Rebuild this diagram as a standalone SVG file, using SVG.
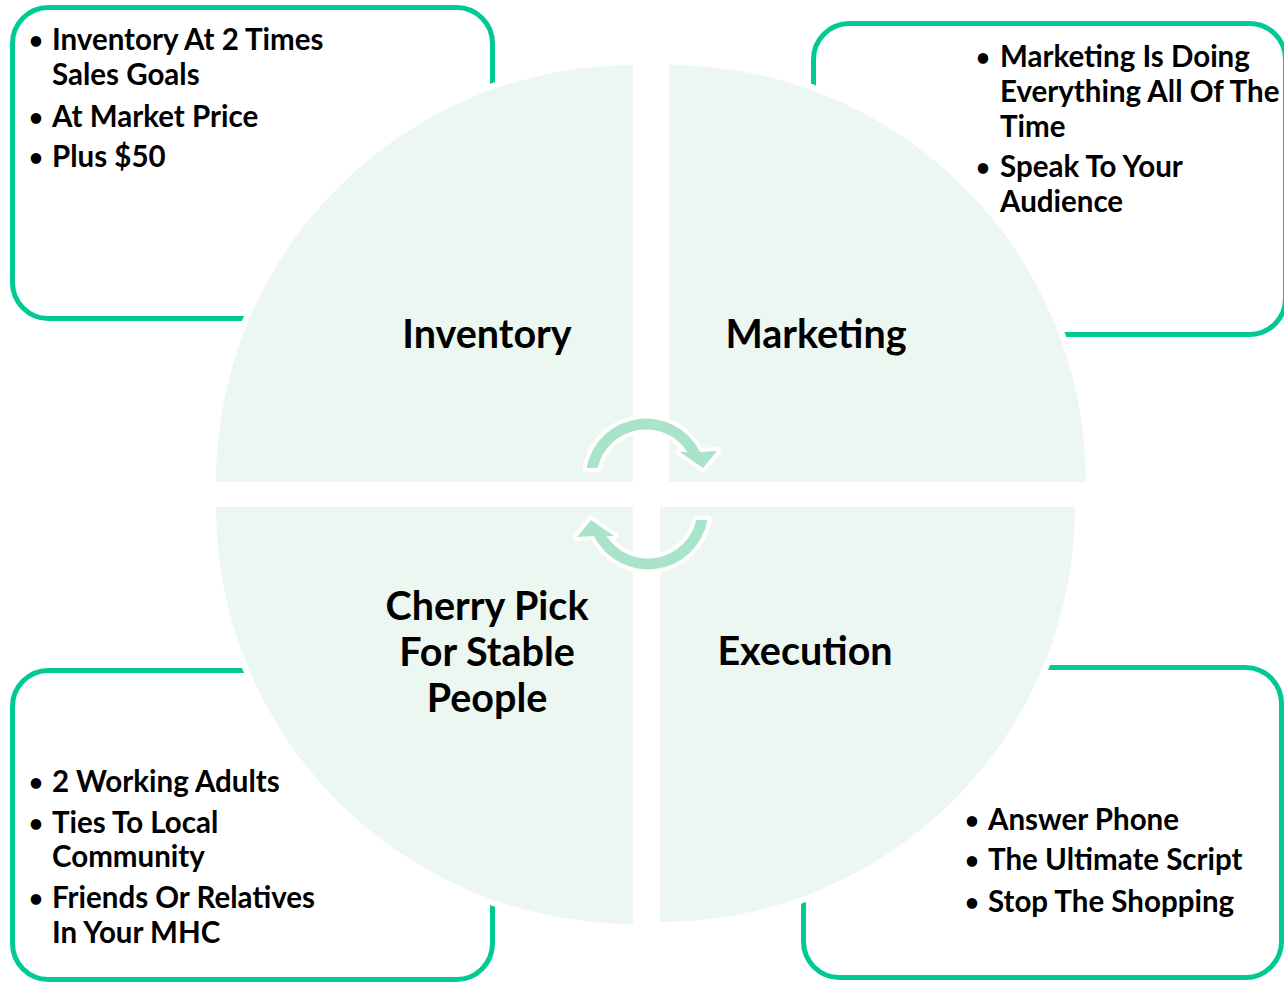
<svg xmlns="http://www.w3.org/2000/svg" width="1284" height="982" viewBox="0 0 1284 982">
<style>
.box{fill:#fff;stroke:#00C994;stroke-width:5}
.q{fill:#EDF7F2;stroke:#fff;stroke-width:12;paint-order:stroke}
.t{font-family:Lato,"Liberation Sans",sans-serif;font-weight:700;font-size:39.5px;fill:#000;text-anchor:middle}
.b{font-family:Lato,"Liberation Sans",sans-serif;font-weight:700;font-size:29.5px;fill:#000}
.d{font-family:Lato,"Liberation Sans",sans-serif;font-weight:700;font-size:24px;fill:#000;text-anchor:middle}
.arr{fill:#A9E3C9;stroke:#fff;stroke-width:8;stroke-linejoin:round;paint-order:stroke}
</style>
<defs>
<path id="cyc" class="arr" d="M586.5,468 A60.5,60.5 0 0 1 700.1,452 L717,451 L703,468 L680,452 L687.5,452 A49.5,49.5 0 0 0 597.7,468 Z"/>
</defs>
<rect width="1284" height="982" fill="#fff"/>
<g id="box-inventory">
<rect class="box" x="12.5" y="7.5" width="480" height="311" rx="36"/>
<text class="d" x="36" y="49">•</text>
<text class="b" x="52" y="50">Inventory At 2 Times</text>
<text class="b" x="52" y="85">Sales Goals</text>
<text class="d" x="36" y="126">•</text>
<text class="b" x="52" y="127">At Market Price</text>
<text class="d" x="36" y="166">•</text>
<text class="b" x="52" y="167">Plus $50</text>
</g>
<g id="box-marketing">
<rect class="box" x="813.5" y="23.5" width="472" height="311" rx="36"/>
<text class="d" x="983" y="66">•</text>
<text class="b" x="1000" y="67">Marketing Is Doing</text>
<text class="b" x="1000" y="102">Everything All Of The</text>
<text class="b" x="1000" y="137">Time</text>
<text class="d" x="983" y="176">•</text>
<text class="b" x="1000" y="177">Speak To Your</text>
<text class="b" x="1000" y="212">Audience</text>
</g>
<g id="box-cherry">
<rect class="box" x="12.5" y="670.5" width="480" height="309" rx="36"/>
<text class="d" x="36" y="791">•</text>
<text class="b" x="52" y="792">2 Working Adults</text>
<text class="d" x="36" y="832">•</text>
<text class="b" x="52" y="833">Ties To Local</text>
<text class="b" x="52" y="867">Community</text>
<text class="d" x="36" y="907">•</text>
<text class="b" x="52" y="908">Friends Or Relatives</text>
<text class="b" x="52" y="943">In Your MHC</text>
</g>
<g id="box-execution">
<rect class="box" x="803.5" y="667.5" width="478" height="310" rx="36"/>
<text class="d" x="972" y="829">•</text>
<text class="b" x="988" y="830">Answer Phone</text>
<text class="d" x="972" y="869">•</text>
<text class="b" x="988" y="870">The Ultimate Script</text>
<text class="d" x="972" y="911">•</text>
<text class="b" x="988" y="912">Stop The Shopping</text>
</g>
<g id="inventory">
<path class="q" d="M633,482 L216,482 A417,417 0 0 1 633,65 Z"/>
<text class="t" x="487" y="348">Inventory</text>
</g>
<g id="marketing">
<path class="q" d="M669,482 L669,65 A417,417 0 0 1 1086,482 Z"/>
<text class="t" x="816" y="348">Marketing</text>
</g>
<g id="cherry-pick">
<path class="q" d="M633,507 L633,924 A417,417 0 0 1 216,507 Z"/>
<text class="t" x="487" y="620">Cherry Pick</text>
<text class="t" x="487" y="666">For Stable</text>
<text class="t" x="487" y="712">People</text>
</g>
<g id="execution">
<path class="q" d="M660,507 L1075,507 A415,415 0 0 1 660,922 Z"/>
<text class="t" x="805" y="665">Execution</text>
</g>
<g id="connectors">
<use href="#cyc"/>
<use href="#cyc" transform="rotate(180 647 494)"/>
</g>
</svg>
